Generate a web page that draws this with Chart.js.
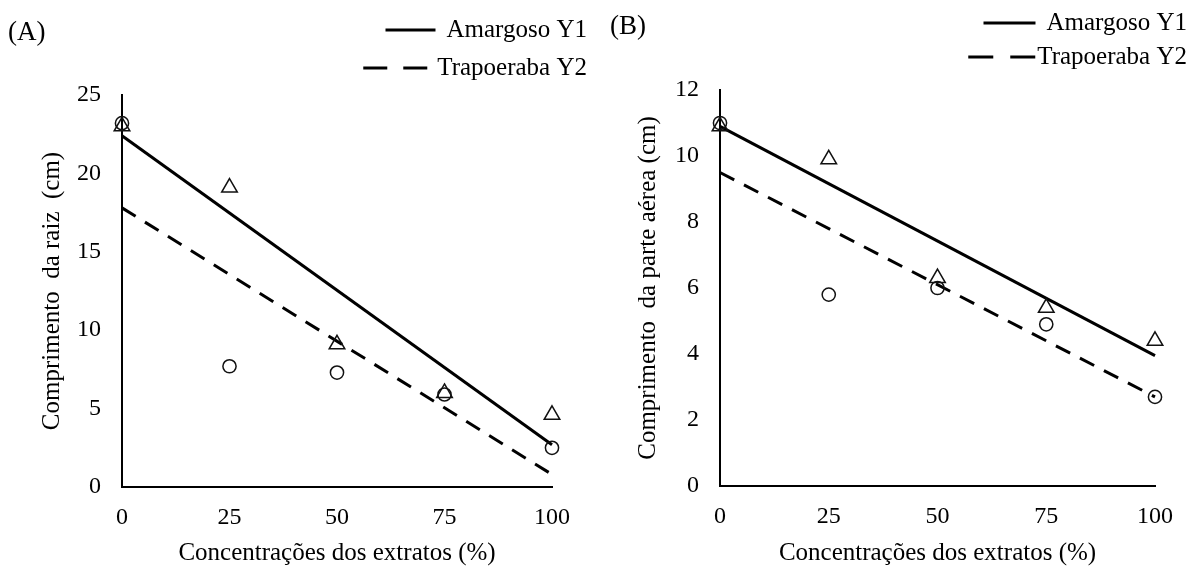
<!DOCTYPE html>
<html>
<head>
<meta charset="utf-8">
<script src="https://cdn.jsdelivr.net/npm/chart.js@4.4.1/dist/chart.umd.min.js"></script>
<style>
  body { margin: 0; background: #fff; }
  .panel { position: absolute; top: 0; width: 596px; height: 568px; }
</style>
</head>
<body>
<div class="panel" style="left:0"><canvas id="chartA" width="596" height="568"></canvas></div>
<div class="panel" style="left:596px"><canvas id="chartB" width="596" height="568"></canvas></div>
<script>
// x values (extract concentration, %)
const concentrations = [0, 25, 50, 75, 100];
const fitX = [0, 100];
const xTicks = [0, 25, 50, 75, 100];

// (A) root length (cm)
const raizAmargoso = [23.0, 19.1, 9.1, 6.0, 4.6];
const raizTrapoeraba = [23.2, 7.7, 7.3, 5.9, 2.5];
const raizFitAmargoso = [22.4, 2.7];
const raizFitTrapoeraba = [17.8, 0.8];
const raizTicks = [0, 5, 10, 15, 20, 25];

// (B) shoot length (cm)
const aereaAmargoso = [10.9, 9.9, 6.3, 5.4, 4.4];
const aereaTrapoeraba = [11.0, 5.8, 6.0, 4.9, 2.7];
const aereaFitAmargoso = [10.9, 3.95];
const aereaFitTrapoeraba = [9.5, 2.7];
const aereaTicks = [0, 2, 4, 6, 8, 10, 12];

const legendLabels = ["Amargoso Y1", "Trapoeraba Y2"];
const serif = "'Liberation Serif', 'Times New Roman', serif";

Chart.defaults.font.family = serif;
Chart.defaults.color = "#000";

function toPoints(xs, ys) {
  return xs.map((x, i) => ({ x: x, y: ys[i] }));
}

// draws the "(A)" / "(B)" tag and the line legend in the top right
const panelText = {
  id: "panelText",
  afterDraw(chart, args, opts) {
    const ctx = chart.ctx;
    ctx.save();
    ctx.fillStyle = "#000";
    ctx.strokeStyle = "#000";
    ctx.textBaseline = "middle";
    ctx.font = "27px " + serif;
    ctx.textAlign = "left";
    ctx.fillText(opts.panel, opts.panelX, opts.panelY);

    ctx.font = "25px " + serif;
    ctx.textAlign = "right";
    opts.rows.forEach((row, i) => {
      const label = legendLabels[i];
      const w = ctx.measureText(label).width;
      ctx.fillText(label, opts.textRight, row.y);
      const end = opts.textRight - w - row.gap;
      ctx.beginPath();
      ctx.lineWidth = 3;
      ctx.setLineDash(row.dash);
      ctx.moveTo(end - row.len, row.y);
      ctx.lineTo(end, row.y);
      ctx.stroke();
    });
    ctx.restore();
  }
};

function makeChart(canvasId, cfg) {
  const ctx = document.getElementById(canvasId).getContext("2d");
  return new Chart(ctx, {
    type: "scatter",
    data: {
      datasets: [
        {
          label: legendLabels[0],
          data: toPoints(concentrations, cfg.amargoso),
          pointStyle: "triangle",
          pointRadius: 9,
          borderColor: "#111",
          backgroundColor: "rgba(0,0,0,0)",
          borderWidth: 1.5,
          clip: false,
        },
        {
          label: legendLabels[1],
          data: toPoints(concentrations, cfg.trapoeraba),
          pointStyle: "circle",
          pointRadius: 6.6,
          borderColor: "#111",
          backgroundColor: "rgba(0,0,0,0)",
          borderWidth: 1.5,
          clip: false,
        },
        {
          label: "fit " + legendLabels[0],
          data: toPoints(fitX, cfg.fitAmargoso),
          showLine: true,
          pointRadius: 0,
          borderColor: "#000",
          borderWidth: 3,
          clip: false,
        },
        {
          label: "fit " + legendLabels[1],
          data: toPoints(fitX, cfg.fitTrapoeraba),
          showLine: true,
          pointRadius: 0,
          borderColor: "#000",
          borderWidth: 3,
          borderDash: [16, 11],
          clip: false,
        },
      ],
    },
    options: {
      responsive: false,
      animation: false,
      layout: { padding: { left: 0, top: cfg.top, right: cfg.right, bottom: 0 } },
      plugins: {
        legend: { display: false },
        tooltip: { enabled: false },
        panelText: cfg.text,
      },
      scales: {
        x: {
          type: "linear",
          min: xTicks[0],
          max: xTicks[xTicks.length - 1],
          afterFit: (scale) => { scale.height = cfg.xHeight; },
          ticks: { stepSize: xTicks[1] - xTicks[0], padding: 16, font: { size: 24 }, color: "#000" },
          grid: { display: false, drawTicks: false },
          border: { display: true, color: "#000", width: 2 },
          title: {
            display: true,
            text: "Concentrações dos extratos (%)",
            font: { size: 25 },
            color: "#000",
            padding: { top: 0, bottom: 0 },
          },
        },
        y: {
          min: cfg.ticks[0],
          max: cfg.ticks[cfg.ticks.length - 1],
          afterFit: (scale) => { scale.width = cfg.yWidth; },
          ticks: { stepSize: cfg.ticks[1] - cfg.ticks[0], padding: 21, font: { size: 24 }, color: "#000" },
          grid: { display: false, drawTicks: false },
          border: { display: true, color: "#000", width: 2 },
          title: {
            display: true,
            text: cfg.yTitle,
            font: { size: 25 },
            color: "#000",
            padding: { top: 37, bottom: 0 },
          },
        },
      },
    },
    plugins: [panelText],
  });
}

makeChart("chartA", {
  amargoso: raizAmargoso,
  trapoeraba: raizTrapoeraba,
  fitAmargoso: raizFitAmargoso,
  fitTrapoeraba: raizFitTrapoeraba,
  ticks: raizTicks,
  yTitle: "Comprimento  da raiz  (cm)",
  top: 95,
  right: 44,
  yWidth: 122,
  xHeight: 81,
  text: {
    panel: "(A)",
    panelX: 8,
    panelY: 33,
    textRight: 587,
    rows: [
      { y: 30, dash: [], gap: 11, len: 50 },
      { y: 68, dash: [24, 16], gap: 9, len: 65 },
    ],
  },
});

makeChart("chartB", {
  amargoso: aereaAmargoso,
  trapoeraba: aereaTrapoeraba,
  fitAmargoso: aereaFitAmargoso,
  fitTrapoeraba: aereaFitTrapoeraba,
  ticks: aereaTicks,
  yTitle: "Comprimento  da parte aérea (cm)",
  top: 90,
  right: 37,
  yWidth: 124,
  xHeight: 82,
  text: {
    panel: "(B)",
    panelX: 14,
    panelY: 27,
    textRight: 591,
    rows: [
      { y: 23, dash: [], gap: 11, len: 52 },
      { y: 57, dash: [25, 17], gap: 2, len: 67 },
    ],
  },
});
</script>
</body>
</html>
